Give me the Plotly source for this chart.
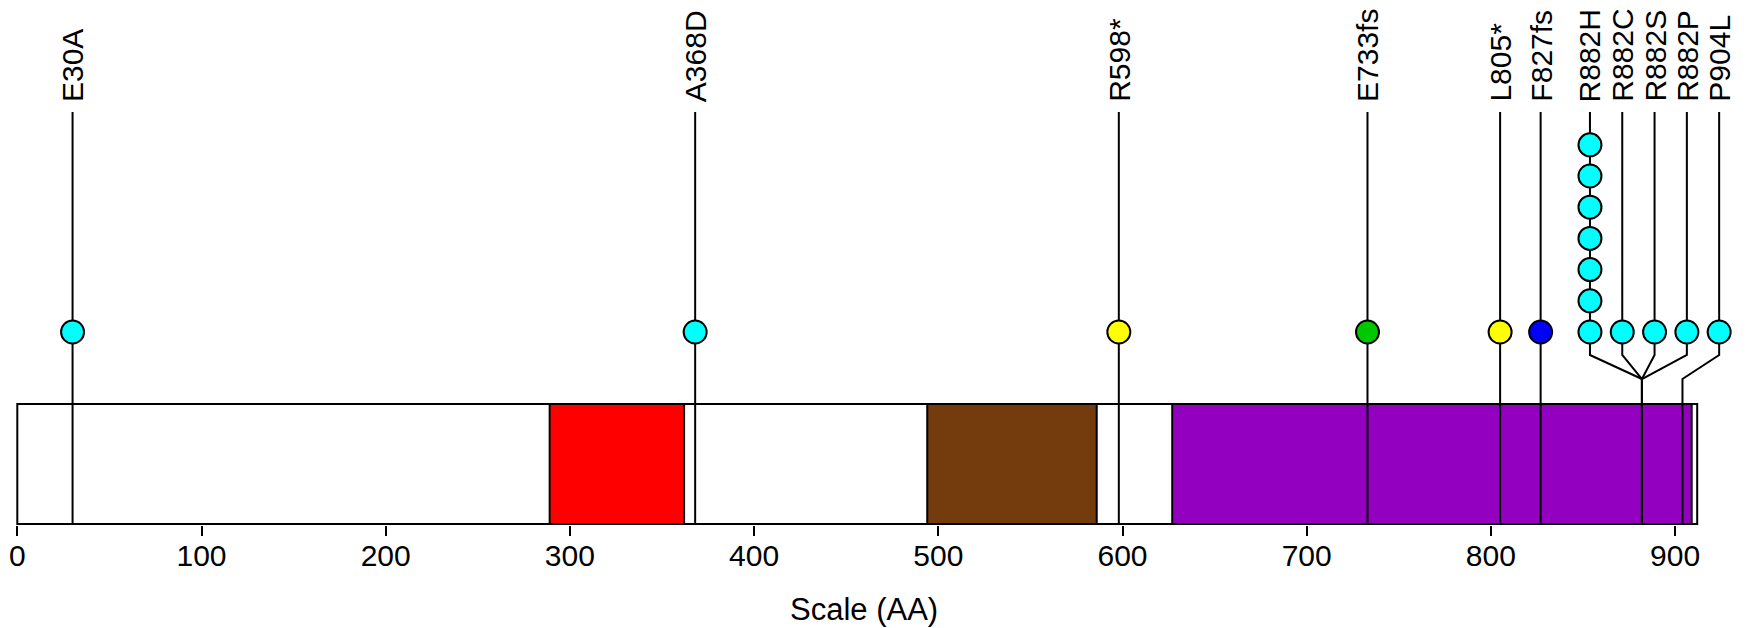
import plotly.graph_objects as go

# ---------------- data ----------------
PROTEIN_LENGTH = 912
domain_starts = [289, 494, 627]
domain_ends = [362, 586, 909]
domain_colors = ["#FF0000", "#743C0C", "#9400C0"]

mut_labels = ["E30A", "A368D", "R598*", "E733fs", "L805*", "F827fs",
              "R882H", "R882C", "R882S", "R882P", "P904L"]
mut_positions = [30, 368, 598, 733, 805, 827, 882, 882, 882, 882, 904]
mut_counts = [1, 1, 1, 1, 1, 1, 7, 1, 1, 1, 1]
mut_colors = ["#00FFFF", "#00FFFF", "#FFFF00", "#00C800", "#FFFF00", "#0000FF",
              "#00FFFF", "#00FFFF", "#00FFFF", "#00FFFF", "#00FFFF"]

tick_vals = [0, 100, 200, 300, 400, 500, 600, 700, 800, 900]
x_title = "Scale (AA)"

# ---------------- layout constants ----------------
W, H = 1749, 628
PLOT_BOTTOM = 525
X0_PX = 17.3
PX_PER_AA = 1.842
BASE_PX = 332.0      # pixel row of first circle
STEP_PX = 31.2       # vertical spacing of stacked circles
LABEL_BOTTOM_PX = 104
STEM_TOP_PX = 112
BEND1_PX = 355
BEND2_PX = 379
BOX_TOP_PX = 404
BOX_BOTTOM_PX = 524
TITLE_PX = 609
MIN_GAP_AA = 32.3 / PX_PER_AA
CLUSTER_SHIFT = 2.45
FONT = "Liberation Sans, Arial, sans-serif"


def py(px):
    """convert a pixel row (from top) into y-axis units (circle stack index)"""
    return 1 + (BASE_PX - px) / STEP_PX


def paper_y(px):
    return (PLOT_BOTTOM - px) / PLOT_BOTTOM


# collision avoidance for lollipop heads
order = sorted(range(len(mut_positions)), key=lambda i: mut_positions[i])
clusters = [[i] for i in order]
disp = {i: float(mut_positions[i]) for i in order}
changed = True
while changed:
    changed = False
    merged = [clusters[0]]
    for c in clusters[1:]:
        if disp[c[0]] - disp[merged[-1][-1]] < MIN_GAP_AA - 1e-6:
            merged[-1] = merged[-1] + c
            changed = True
        else:
            merged.append(c)
    clusters = merged
    for c in clusters:
        if len(c) > 1:
            center = sum(mut_positions[i] for i in c) / len(c)
            for j, i in enumerate(c):
                disp[i] = center + (j - (len(c) - 1) / 2) * MIN_GAP_AA
for c in clusters:
    if len(c) > 1:
        for i in c:
            disp[i] += CLUSTER_SHIFT

fig = go.Figure()

# protein backbone and domains
shapes = [dict(type="rect", xref="x", yref="y", x0=0, x1=PROTEIN_LENGTH,
               y0=py(BOX_BOTTOM_PX), y1=py(BOX_TOP_PX), fillcolor="white",
               line=dict(color="black", width=2), layer="below")]
for s, e, c in zip(domain_starts, domain_ends, domain_colors):
    shapes.append(dict(type="rect", xref="x", yref="y", x0=s, x1=e,
                       y0=py(BOX_BOTTOM_PX), y1=py(BOX_TOP_PX), fillcolor=c,
                       line=dict(color="black", width=2), layer="below"))

# stems
for i in range(len(mut_positions)):
    ox, dx = mut_positions[i], disp[i]
    if abs(ox - dx) < 1e-6:
        xs = [ox, ox]
        ys = [py(STEM_TOP_PX), py(BOX_BOTTOM_PX)]
    else:
        xs = [dx, dx, ox, ox]
        ys = [py(STEM_TOP_PX), py(BEND1_PX), py(BEND2_PX), py(BOX_BOTTOM_PX)]
    fig.add_trace(go.Scatter(x=xs, y=ys, mode="lines",
                             line=dict(color="black", width=2),
                             hoverinfo="skip", showlegend=False, cliponaxis=False))

# heads
hx, hy, hc, ht = [], [], [], []
for i in range(len(mut_positions)):
    for k in range(1, mut_counts[i] + 1):
        hx.append(disp[i]); hy.append(k); hc.append(mut_colors[i]); ht.append(mut_labels[i])
fig.add_trace(go.Scatter(x=hx, y=hy, mode="markers", text=ht,
                         marker=dict(size=23, color=hc, line=dict(color="black", width=2)),
                         showlegend=False, cliponaxis=False, hoverinfo="text"))

annotations = []
for i in range(len(mut_positions)):
    annotations.append(dict(x=disp[i], y=py(LABEL_BOTTOM_PX), xref="x", yref="y",
                            text=mut_labels[i], textangle=-90, showarrow=False,
                            xanchor="center", yanchor="bottom",
                            font=dict(family=FONT, size=30, color="black")))
annotations.append(dict(x=459.7, y=paper_y(TITLE_PX), xref="x", yref="paper", text=x_title,
                        showarrow=False, xanchor="center", yanchor="middle",
                        font=dict(family=FONT, size=31, color="black")))

fig.update_layout(
    width=W, height=H,
    margin=dict(l=0, r=0, t=0, b=H - PLOT_BOTTOM, pad=0),
    paper_bgcolor="white", plot_bgcolor="white",
    shapes=shapes, annotations=annotations,
    xaxis=dict(range=[-X0_PX / PX_PER_AA, (W - X0_PX) / PX_PER_AA],
               tickvals=tick_vals, ticktext=[str(v) for v in tick_vals],
               ticks="outside", ticklen=10, tickwidth=2, tickcolor="black",
               ticklabelstandoff=-6,
               showgrid=False, zeroline=False, showline=False,
               tickfont=dict(family=FONT, size=30, color="black"), fixedrange=True),
    yaxis=dict(range=[py(PLOT_BOTTOM), py(0)], visible=False, fixedrange=True),
    showlegend=False,
)

fig.write_html("out.html")
